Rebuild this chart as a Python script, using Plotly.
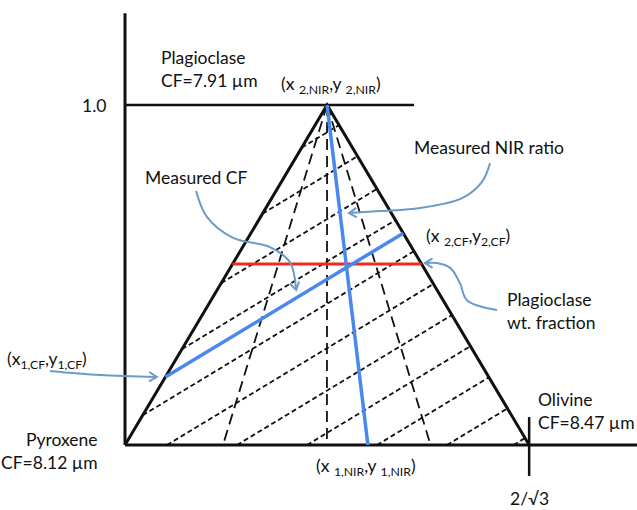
import math
import plotly.graph_objects as go

# Ternary geometry: pyroxene at the origin, olivine at (2/sqrt3, 0), plagioclase at (1/sqrt3, 1)
S3 = math.sqrt(3.0)
PYX = (0.0, 0.0)
OLV = (2.0 / S3, 0.0)
PLG = (1.0 / S3, 1.0)

# Endmember Christiansen-feature positions (µm)
endmember_names = ["Plagioclase", "Pyroxene", "Olivine"]
endmember_cf = [7.91, 8.12, 8.47]

# Measured CF line: heights where it meets the left and right triangle edges
cf_left_height = 0.20
cf_right_height = 0.623

# Iso-CF guide lines: x-intercept of each line on the y = 0 baseline
iso_cf_offsets = [-0.90, -0.70, -0.49, -0.29, -0.09, 0.12, 0.32, 0.52, 0.72, 0.92, 1.11]

# Iso-NIR-ratio guide lines: where each apex ray meets the baseline
iso_nir_base = [0.28, 0.577, 0.873]

# Measured NIR ratio line: baseline intercept (from the plagioclase apex)
nir_base = 0.694

# Plagioclase weight fraction from the intersection
plag_fraction = 0.532

BLACK = "#111111"
BLUE = "#4a88ee"
RED = "#ee2a1c"
ARROW = "#6b9bc9"
FONT = "Lato"

# axis ranges and the pixel size of one data unit on each axis
X_RANGE = [-125 / 350, 512 / 350]
Y_RANGE = [-65 / 340, 445 / 340]
PX_X = 637 / (X_RANGE[1] - X_RANGE[0])
PX_Y = 510 / (Y_RANGE[1] - Y_RANGE[0])

fig = go.Figure()


def seg(x0, y0, x1, y1, color, width, dash="solid"):
    fig.add_trace(go.Scatter(x=[x0, x1], y=[y0, y1], mode="lines",
                             line=dict(color=color, width=width, dash=dash),
                             hoverinfo="skip", showlegend=False))


# slope of the measured CF line
xl = cf_left_height / S3
xr = (2.0 - cf_right_height) / S3
slope = (cf_right_height - cf_left_height) / (xr - xl)

# iso-CF dashed lines clipped to the triangle
for c in iso_cf_offsets:
    if c < 0:
        x0 = -slope * c / (S3 - slope)
        y0 = S3 * x0
    else:
        x0, y0 = c, 0.0
    x1 = (2.0 + slope * c) / (S3 + slope)
    y1 = slope * (x1 - c)
    seg(x0, y0, x1, y1, BLACK, 1.8, "5px,3px")

# iso-NIR dashed rays from the apex
for xb in iso_nir_base:
    seg(PLG[0], PLG[1], xb, 0.0, BLACK, 1.8, "11px,6px")

# triangle edges
fig.add_trace(go.Scatter(x=[PYX[0], PLG[0], OLV[0]], y=[PYX[1], PLG[1], OLV[1]],
                         mode="lines", line=dict(color=BLACK, width=3),
                         hoverinfo="skip", showlegend=False))

# axes
seg(0, 0, 0, 1.27, BLACK, 3)
seg(0, 0, 1.465, 0, BLACK, 3)
seg(0, 1.0, 0.826, 1.0, BLACK, 2.5)
seg(OLV[0], -0.091, OLV[0], 0.082, BLACK, 2.5)

# plagioclase fraction line (red)
seg(plag_fraction / S3, plag_fraction, (2.0 - plag_fraction) / S3, plag_fraction, RED, 3)
# measured CF line (blue)
seg(xl, cf_left_height, xr, cf_right_height, BLUE, 3.5)
# measured NIR ratio line (blue)
seg(PLG[0], PLG[1], nir_base, 0.0, BLUE, 3.5)

# curved call-out arrows: a smooth path ending at the tip, plus an open chevron head
callouts = [
    ([0.203, 0.234, 0.309, 0.414, 0.471, 0.489], [0.747, 0.671, 0.609, 0.582, 0.538, 0.456]),
    ([1.043, 1.020, 0.963, 0.843, 0.729, 0.640], [0.829, 0.774, 0.726, 0.697, 0.688, 0.682]),
    ([-0.214, -0.071, 0.091], [0.218, 0.206, 0.200]),
    ([1.063, 0.977, 0.957, 0.929, 0.891, 0.857], [0.397, 0.426, 0.476, 0.521, 0.535, 0.535]),
]
HEAD_LEN = 9.0
HEAD_ANGLE = math.radians(32)
for xs, ys in callouts:
    fig.add_trace(go.Scatter(x=xs, y=ys, mode="lines",
                             line=dict(color=ARROW, width=2, shape="spline", smoothing=1.0),
                             hoverinfo="skip", showlegend=False))
    # direction of the final stretch, in screen pixels
    dx = (xs[-1] - xs[-2]) * PX_X
    dy = (ys[-1] - ys[-2]) * PX_Y
    ang = math.atan2(dy, dx)
    hx, hy = [], []
    for sgn in (1, -1):
        a = ang + math.pi + sgn * HEAD_ANGLE
        hx.append(xs[-1] + HEAD_LEN * math.cos(a) / PX_X)
        hy.append(ys[-1] + HEAD_LEN * math.sin(a) / PX_Y)
    fig.add_trace(go.Scatter(x=[hx[0], xs[-1], hx[1]], y=[hy[0], ys[-1], hy[1]],
                             mode="lines", line=dict(color=ARROW, width=2),
                             hoverinfo="skip", showlegend=False))

font = dict(family=FONT, size=17.5, color=BLACK)


def label(x, y, text, xanchor="center", align="center"):
    fig.add_annotation(x=x, y=y, xref="x", yref="y", text=text, showarrow=False,
                       xanchor=xanchor, yanchor="middle", align=align, font=font)


label(-0.05, 1.0, "1.0", xanchor="right")
label(0.097, 1.106, f"{endmember_names[0]}<br>CF={endmember_cf[0]:.2f} µm", xanchor="left", align="left")
label(-0.071, -0.017, f"{endmember_names[1]}<br>CF={endmember_cf[1]:.2f} µm", xanchor="right", align="right")
label(1.174, 0.10, f"{endmember_names[2]}<br>CF={endmember_cf[2]:.2f} µm", xanchor="left", align="left")
label(0.589, 1.059, "(x <sub>2,NIR</sub>,y <sub>2,NIR</sub>)")
label(0.689, -0.065, "(x <sub>1,NIR</sub>,y <sub>1,NIR</sub>)")
label(0.98, 0.612, "(x <sub>2,CF</sub>,y<sub>2,CF</sub>)")
label(-0.223, 0.25, "(x<sub>1,CF</sub>,y<sub>1,CF</sub>)")
label(0.203, 0.788, "Measured CF")
label(1.04, 0.874, "Measured NIR ratio")
label(1.086, 0.394, "Plagioclase<br>wt. fraction", xanchor="left", align="left")
label(OLV[0], -0.158, "2/√3")

fig.update_layout(
    width=637, height=510, autosize=False,
    margin=dict(l=0, r=0, t=0, b=0),
    paper_bgcolor="white", plot_bgcolor="white",
    xaxis=dict(range=X_RANGE, visible=False, fixedrange=True),
    yaxis=dict(range=Y_RANGE, visible=False, fixedrange=True),
    showlegend=False,
)

fig.write_html("out.html")
